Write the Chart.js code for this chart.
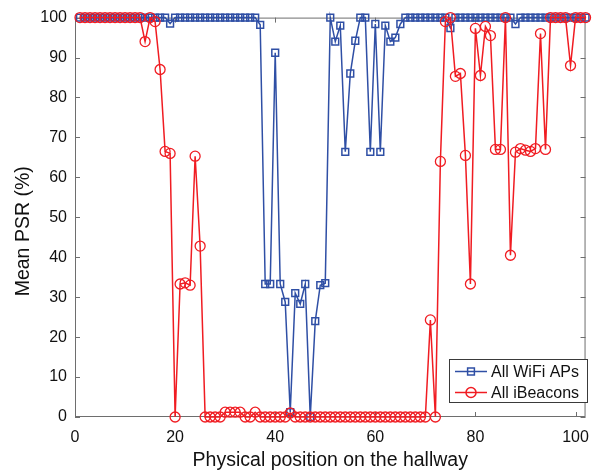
<!DOCTYPE html>
<html>
  <head>
    <script src="https://cdn.jsdelivr.net/npm/chart.js"></script>
    <style>
      body {
        margin: 0;
        background: #fff;
      }
    </style>
  </head>
  <body>
    <canvas id="psrChart" width="600" height="470"></canvas>

    <script>
      // hallway positions 1..102
      const positions = Array.from({ length: 102 }, (_, i) => i + 1);

      const wifiPsr = [
        100, 100, 100, 100, 100, 100, 100, 100, 100, 100,
        100, 100, 100, 100, 100, 100, 100, 100, 98.5, 100,
        100, 100, 100, 100, 100, 100, 100, 100, 100, 100,
        100, 100, 100, 100, 100, 100, 98.2, 33.3, 33.3, 91.2,
        33.3, 28.8, 1.2, 31, 28.3, 33.3, 0, 24, 33, 33.5,
        100, 94, 98, 66.4, 86, 94.2, 100, 100, 66.4, 98.4,
        66.4, 98, 94, 95, 98.4, 100, 100, 100, 100, 100,
        100, 100, 100, 100, 97.4, 100, 100, 100, 100, 100,
        100, 100, 100, 100, 100, 100, 100, 98.4, 100, 100,
        100, 100, 100, 100, 100, 100, 100, 100, 100, 100,
        100, 100
      ];

      const beaconPsr = [
        100, 100, 100, 100, 100, 100, 100, 100, 100, 100,
        100, 100, 100, 94, 100, 99, 87, 66.5, 66, 0,
        33.3, 33.6, 33, 65.3, 42.8, 0, 0, 0, 0, 1.2,
        1.2, 1.2, 1.2, 0, 0, 1.2, 0, 0, 0, 0,
        0, 0, 1, 0, 0, 0, 0, 0, 0, 0,
        0, 0, 0, 0, 0, 0, 0, 0, 0, 0,
        0, 0, 0, 0, 0, 0, 0, 0, 0, 0,
        24.3, 0, 64, 99, 100, 85.3, 86, 65.5, 33.3, 97.3,
        85.5, 97.8, 95.5, 67, 67, 100, 40.5, 66.3, 67.2, 66.8,
        66.5, 67.2, 96, 67, 100, 100, 100, 100, 88, 100,
        100, 100
      ];

      const xTicks = [0, 20, 40, 60, 80, 100];
      const yTicks = [0, 10, 20, 30, 40, 50, 60, 70, 80, 90, 100];
      const yTitle = 'Mean PSR (%)';

      const fontFamily = '"Liberation Sans", Arial, sans-serif';
      const axisColor = '#6e6e6e';
      const blue = '#2f4fa5';
      const red = '#f01c22';

      const toPoints = vals => vals.map((v, i) => ({ x: positions[i], y: v }));

      // box + inward ticks on all four sides, like the original plot
      const framePlugin = {
        id: 'frame',
        beforeDatasetsDraw(chart) {
          const { ctx, chartArea: a, scales: { x, y } } = chart;
          const len = 5;
          ctx.save();
          ctx.strokeStyle = axisColor;
          ctx.lineWidth = 1;
          ctx.strokeRect(a.left + 0.5, a.top + 0.5, a.width - 1, a.height - 1);
          ctx.beginPath();
          x.ticks.forEach(t => {
            const px = Math.round(x.getPixelForValue(t.value)) + 0.5;
            ctx.moveTo(px, a.bottom); ctx.lineTo(px, a.bottom - len);
            ctx.moveTo(px, a.top); ctx.lineTo(px, a.top + len);
          });
          y.ticks.forEach(t => {
            const py = Math.round(y.getPixelForValue(t.value)) + 0.5;
            ctx.moveTo(a.left, py); ctx.lineTo(a.left + len, py);
            ctx.moveTo(a.right, py); ctx.lineTo(a.right - len, py);
          });
          ctx.stroke();

          // y label sits a bit below the axis middle in the original
          ctx.translate(23.5, (a.top + a.bottom) / 2 + 14);
          ctx.rotate(-Math.PI / 2);
          ctx.fillStyle = '#111';
          ctx.font = '19.5px ' + fontFamily;
          ctx.textAlign = 'center';
          ctx.textBaseline = 'middle';
          ctx.fillText(yTitle, 0, 0);
          ctx.restore();
        }
      };

      // legend box in the lower right corner, line + marker samples
      const legendPlugin = {
        id: 'boxLegend',
        afterDraw(chart) {
          const { ctx } = chart;
          const box = { x: 449.5, y: 359.5, w: 138, h: 43 };
          ctx.save();
          ctx.fillStyle = '#fff';
          ctx.fillRect(box.x, box.y, box.w, box.h);
          ctx.strokeStyle = '#3a3a3a';
          ctx.lineWidth = 1;
          ctx.strokeRect(box.x, box.y, box.w, box.h);
          ctx.font = '16px ' + fontFamily;
          ctx.textBaseline = 'middle';
          chart.data.datasets.forEach((ds, i) => {
            const cy = 371.5 + i * 21;
            ctx.strokeStyle = ds.borderColor;
            ctx.lineWidth = 1.5;
            ctx.beginPath();
            ctx.moveTo(455, cy);
            ctx.lineTo(487, cy);
            ctx.stroke();
            ctx.fillStyle = 'rgba(0,0,0,0)';
            Chart.helpers.drawPoint(ctx, {
              pointStyle: ds.pointStyle,
              radius: ds.pointRadius,
              rotation: 0,
              borderWidth: ds.pointBorderWidth
            }, 471, cy);
            ctx.fillStyle = '#111';
            ctx.fillText(ds.label, 491, cy + 1);
          });
          ctx.restore();
        }
      };

      new Chart(document.getElementById('psrChart'), {
        type: 'line',
        data: {
          datasets: [
            {
              label: 'All WiFi APs',
              data: toPoints(wifiPsr),
              borderColor: blue,
              borderWidth: 1.5,
              pointStyle: 'rect',
              pointRadius: 4.8,
              pointBorderWidth: 1.5,
              pointBorderColor: blue,
              pointBackgroundColor: 'rgba(0,0,0,0)',
              tension: 0,
              clip: false,
              order: 1
            },
            {
              label: 'All iBeacons',
              data: toPoints(beaconPsr),
              borderColor: red,
              borderWidth: 1.5,
              pointStyle: 'circle',
              pointRadius: 5,
              pointBorderWidth: 1.3,
              pointBorderColor: red,
              pointBackgroundColor: 'rgba(0,0,0,0)',
              tension: 0,
              clip: false,
              order: 0
            }
          ]
        },
        options: {
          responsive: false,
          animation: false,
          layout: { padding: { top: 17, right: 4, left: 0, bottom: 0 } },
          plugins: {
            legend: { display: false },
            tooltip: { enabled: false }
          },
          scales: {
            x: {
              type: 'linear',
              min: 0,
              max: 102,
              afterBuildTicks: s => { s.ticks = xTicks.map(v => ({ value: v })); },
              afterFit: s => { s.height = 53; },
              grid: { display: false, drawTicks: false },
              border: { display: false },
              ticks: {
                padding: 11,
                color: '#111',
                font: { family: fontFamily, size: 16 }
              },
              title: {
                display: true,
                text: 'Physical position on the hallway',
                color: '#111',
                font: { family: fontFamily, size: 19.5, lineHeight: 1 },
                padding: { top: 0, bottom: 0 }
              }
            },
            y: {
              min: 0,
              max: 100,
              afterBuildTicks: s => { s.ticks = yTicks.map(v => ({ value: v })); },
              afterFit: s => { s.width = 75; },
              grid: { display: false, drawTicks: false },
              border: { display: false },
              ticks: {
                padding: 8,
                color: '#111',
                font: { family: fontFamily, size: 16 }
              }
            }
          }
        },
        plugins: [framePlugin, legendPlugin]
      });
    </script>
  </body>
</html>
